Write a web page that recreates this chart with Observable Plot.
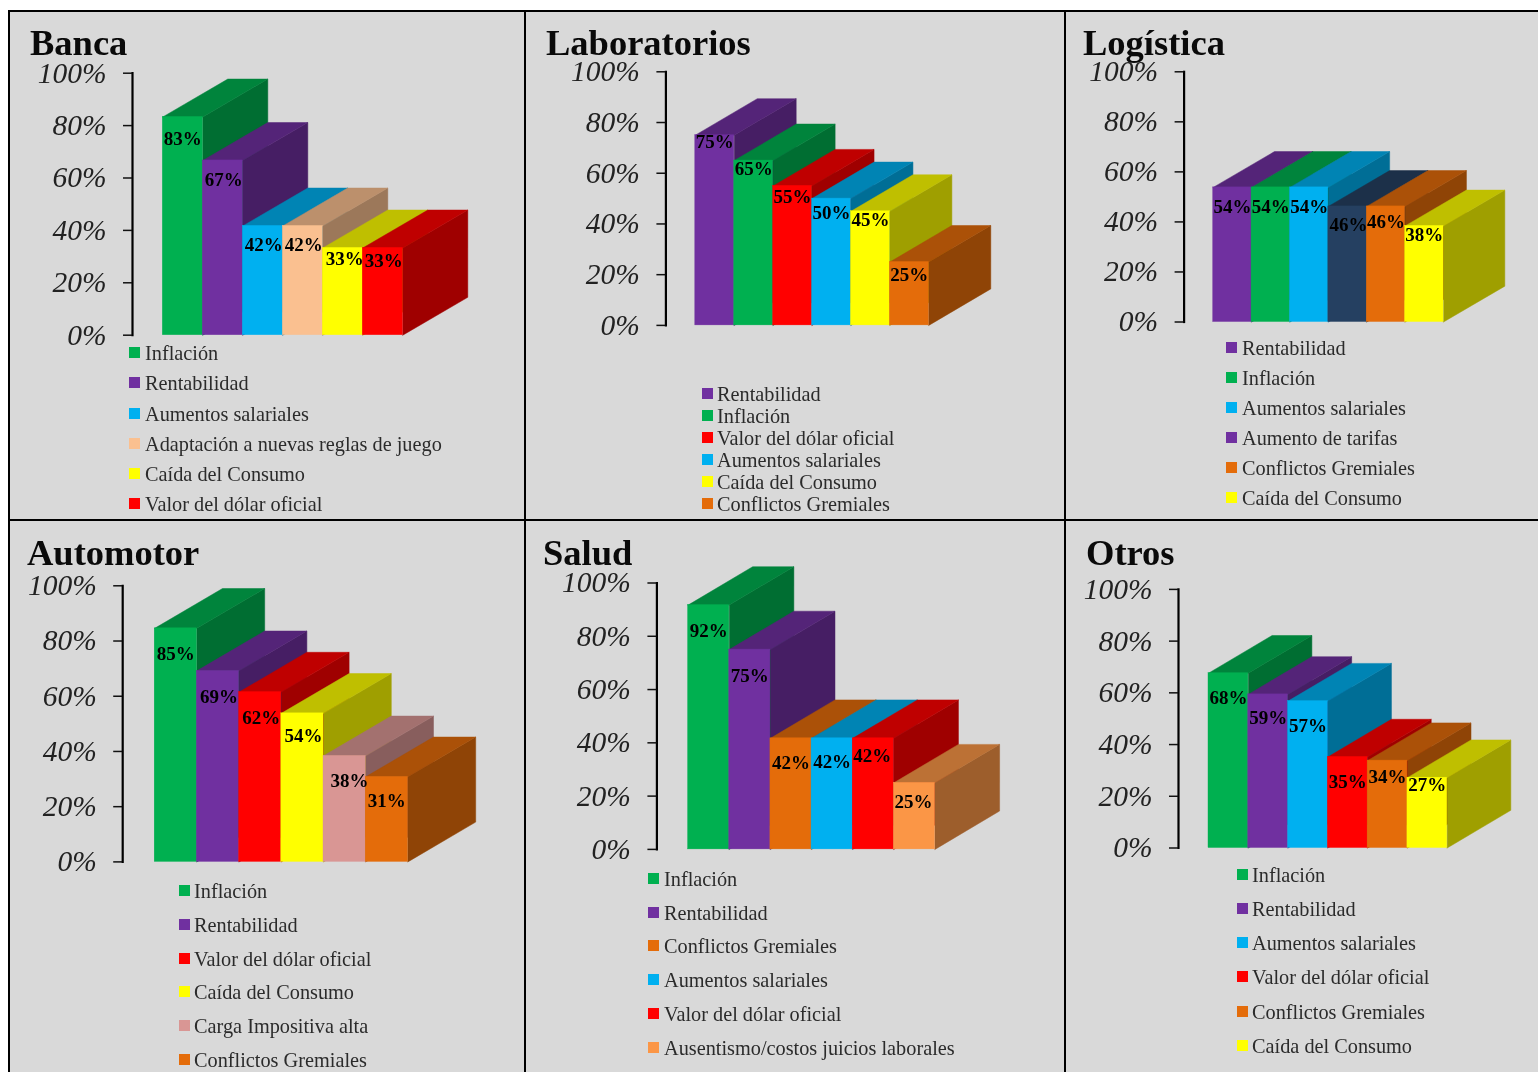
<!DOCTYPE html>
<html lang="es">
<head>
<meta charset="utf-8">
<title>Preocupaciones por sector</title>
<script src="https://cdn.jsdelivr.net/npm/d3@7"></script>
<script src="https://cdn.jsdelivr.net/npm/@observablehq/plot@0.6"></script>
<style>
  html, body { margin: 0; padding: 0; background: #fff; }
  #page { position: relative; width: 1538px; height: 1072px; overflow: hidden; font-family: "Liberation Serif", serif; filter: blur(0.3px); }
  .bg { position: absolute; left: 9px; top: 11px; right: 0; bottom: 0; background: #d9d9d9; }
  .ln { position: absolute; background: #000; }
  .chart { position: absolute; }
  .chart svg { display: block; overflow: visible; }
  .ttl { position: absolute; font: bold 36.5px "Liberation Serif", serif; color: #0a0a0a; line-height: 1; white-space: nowrap; }
  .sw { position: absolute; width: 11px; height: 11px; }
  .lg { position: absolute; font: 20.3px "Liberation Serif", serif; color: #2b2b2b; white-space: nowrap; line-height: 1; transform: translateY(-50%); }
</style>
</head>
<body>
<div id="page"><div class="bg"></div></div>
<script>
// ---- Colours
const GREEN = "#00b050", PURPLE = "#7030a0", BLUE = "#00b0f0", PEACH = "#fac090",
      YELLOW = "#ffff00", RED = "#ff0000", ORANGE = "#e46c0a", NAVY = "#254061",
      ROSE = "#d99694", LIGHTORANGE = "#fb9646";

// ---- Data
const tickValues = [0, 20, 40, 60, 80, 100];

const bancaCategories = ["Inflación", "Rentabilidad", "Aumentos salariales", "Adaptación a nuevas reglas de juego", "Caída del Consumo", "Valor del dólar oficial"];
const bancaValues = [83.3, 66.7, 41.7, 41.7, 33.3, 33.3];
const bancaColors = [GREEN, PURPLE, BLUE, PEACH, YELLOW, RED];

const laboratoriosCategories = ["Rentabilidad", "Inflación", "Valor del dólar oficial", "Aumentos salariales", "Caída del Consumo", "Conflictos Gremiales"];
const laboratoriosValues = [75, 65, 55, 50, 45, 25];
const laboratoriosColors = [PURPLE, GREEN, RED, BLUE, YELLOW, ORANGE];

const logisticaCategories = ["Rentabilidad", "Inflación", "Aumentos salariales", "Aumento de tarifas", "Conflictos Gremiales", "Caída del Consumo"];
const logisticaValues = [53.8, 53.8, 53.8, 46.2, 46.2, 38.4];
const logisticaColors = [PURPLE, GREEN, BLUE, NAVY, ORANGE, YELLOW];
const logisticaSwatches = [PURPLE, GREEN, BLUE, PURPLE, ORANGE, YELLOW];

const automotorCategories = ["Inflación", "Rentabilidad", "Valor del dólar oficial", "Caída del Consumo", "Carga Impositiva alta", "Conflictos Gremiales"];
const automotorValues = [84.6, 69.2, 61.5, 53.8, 38.4, 30.8];
const automotorColors = [GREEN, PURPLE, RED, YELLOW, ROSE, ORANGE];

const saludCategories = ["Inflación", "Rentabilidad", "Conflictos Gremiales", "Aumentos salariales", "Valor del dólar oficial", "Ausentismo/costos juicios laborales"];
const saludValues = [91.7, 75, 41.7, 41.7, 41.7, 25];
const saludColors = [GREEN, PURPLE, ORANGE, BLUE, RED, LIGHTORANGE];

const otrosCategories = ["Inflación", "Rentabilidad", "Aumentos salariales", "Valor del dólar oficial", "Conflictos Gremiales", "Caída del Consumo"];
const otrosValues = [67.6, 59.4, 56.8, 35.2, 33.8, 27.2];
const otrosColors = [GREEN, PURPLE, BLUE, RED, ORANGE, YELLOW];

// ---- Assembly: data + layout (layout is in page pixels)
const panels = [
  { title: "Banca", cats: bancaCategories, vals: bancaValues, cols: bancaColors,
    left: 10, top: 12, right: 524, axisX: 132, y0: 334.7, y100: 72.7, L: 162.3, R: 402.3, dx: 65, dy: 37.9,
    titleX: 30, titleB: 56.5, swX: 129, txX: 145, legY: [353, 383, 414, 444, 474, 504],
    labDy: [22, 19, 19, 19, 11, 13], labDx: [0, 1, 1, 1, 2, 1] },
  { title: "Laboratorios", cats: laboratoriosCategories, vals: laboratoriosValues, cols: laboratoriosColors,
    left: 526, top: 12, right: 1064, axisX: 665.4, y0: 324.9, y100: 71.3, L: 694.8, R: 928.3, dx: 62, dy: 36.5,
    titleX: 546, titleB: 56.5, swX: 702, txX: 717, legY: [394, 416, 438, 460, 482, 504],
    labDy: [7, 8, 11, 14, 9, 13], labDx: [0, 0, 0, 0, 0, 0] },
  { title: "Logística", cats: logisticaCategories, vals: logisticaValues, cols: logisticaColors, swatches: logisticaSwatches,
    left: 1066, top: 12, right: 1538, axisX: 1183.6, y0: 321.5, y100: 71.3, L: 1212.7, R: 1443, dx: 61.3, dy: 35.8,
    titleX: 1083, titleB: 56.5, swX: 1226, txX: 1242, legY: [348, 378, 408, 438, 468, 498],
    labDy: [20, 20, 20, 18, 15, 9], labDx: [0, 0, 0, 1, 0, 0] },
  { title: "Automotor", cats: automotorCategories, vals: automotorValues, cols: automotorColors,
    left: 10, top: 520, right: 524, axisX: 122.2, y0: 861.4, y100: 585.3, L: 154.2, R: 407.4, dx: 67.8, dy: 39.8,
    titleX: 27, titleB: 566.5, swX: 179, txX: 194, legY: [891, 925, 959, 992, 1026, 1060],
    labDy: [26, 26, 26, 23, 25, 24], labDx: [0, 1, 1, 1, 5, 0] },
  { title: "Salud", cats: saludCategories, vals: saludValues, cols: saludColors,
    left: 526, top: 520, right: 1064, axisX: 656.4, y0: 848.9, y100: 582.5, L: 687.6, R: 934.5, dx: 64.6, dy: 38.4,
    titleX: 543, titleB: 566.5, swX: 648, txX: 664, legY: [879, 913, 946, 980, 1014, 1048],
    labDy: [26, 26, 25, 24, 18, 19], labDx: [0, 0, 0, 0, -1, -1] },
  { title: "Otros", cats: otrosCategories, vals: otrosValues, cols: otrosColors,
    left: 1066, top: 520, right: 1538, axisX: 1178, y0: 847.5, y100: 588.9, L: 1208, R: 1446.7, dx: 63.6, dy: 37.7,
    titleX: 1086, titleB: 566.5, swX: 1237, txX: 1252, legY: [875, 909, 943, 977, 1012, 1046],
    labDy: [25, 24, 25, 25, 16, 7], labDx: [0, 0, 0, 0, 0, 0] }
];

const page = document.getElementById("page");
const shade = (c, k) => { const r = d3.rgb(c); return d3.rgb(r.r * k, r.g * k, r.b * k).formatHex(); };
const add = (cls, css, txt) => { const e = document.createElement("div"); e.className = cls; Object.assign(e.style, css); if (txt) e.textContent = txt; page.appendChild(e); return e; };

// frame lines
add("ln", { left: "8px", top: "10px", width: "2px", height: "1062px" });
add("ln", { left: "524px", top: "10px", width: "2px", height: "1062px" });
add("ln", { left: "1064px", top: "10px", width: "2px", height: "1062px" });
add("ln", { left: "8px", top: "10px", width: "1530px", height: "2px" });
add("ln", { left: "8px", top: "519px", width: "1530px", height: "2px" });

for (const p of panels) {
  const n = p.vals.length;
  const w = (p.R - p.L) / n;                 // px per bar
  const ppp = (p.y0 - p.y100) / 100;          // px per percent
  const du = p.dx / w, dv = p.dy / ppp;       // depth of the 3D extrusion in scale units
  const bars = p.vals.map((v, i) => ({ i, v, color: p.cols[i], label: Math.round(v) + "%",
    lx: i + 0.5 + p.labDx[i] / w, ly: v - p.labDy[i] / ppp }));
  const faces = [];
  for (const b of bars) {
    const { i, v, color } = b;
    const side = shade(color, 0.625), top = shade(color, 0.75);
    [[i + 1, v], [i + 1 + du, v + dv], [i + 1 + du, dv], [i + 1, 0]].forEach(([x, y]) => faces.push({ x, y, id: i + "s", color: side }));
    [[i, v], [i + du, v + dv], [i + 1 + du, v + dv], [i + 1, v]].forEach(([x, y]) => faces.push({ x, y, id: i + "t", color: top }));
  }

  const chart = Plot.plot({
    width: p.right - p.left,
    height: p.y0 - p.top + 12,
    marginLeft: p.axisX - p.left,
    marginRight: 0,
    marginTop: p.y100 - p.top,
    marginBottom: 12,
    style: { background: "transparent", fontFamily: "'Liberation Serif', serif", overflow: "visible", maxWidth: "none" },
    x: { domain: [0, n], range: [p.L - p.left, p.R - p.left], axis: null },
    y: { domain: [0, 100], range: [p.y0 - p.top, p.y100 - p.top], axis: null },
    color: { type: "identity" },
    marks: [
      Plot.frame({ anchor: "left", stroke: "#000", strokeWidth: 2.2 }),
      Plot.axisY(tickValues, { anchor: "left", tickSize: 9, tickPadding: 17, strokeWidth: 1.5, stroke: "#111", fill: "#222",
        tickFormat: d => d + "%", fontSize: 29.5, fontStyle: "italic", label: null }),
      Plot.line(faces, { x: "x", y: "y", z: "id", fill: "color", stroke: "color", strokeWidth: 0.5, curve: "linear-closed" }),
      Plot.rect(bars, { x1: "i", x2: d => d.i + 1, y1: 0, y2: "v", fill: "color", stroke: "color", strokeWidth: 0.4 }),
      Plot.text(bars, { x: "lx", y: "ly", text: "label", fill: "#000", fontSize: 19, fontWeight: "bold", textAnchor: "middle", lineAnchor: "middle" })
    ]
  });
  const holder = add("chart", { left: p.left + "px", top: p.top + "px", width: (p.right - p.left) + "px" });
  holder.appendChild(chart);

  // title
  add("ttl", { left: p.titleX + "px", top: (p.titleB - 32) + "px" }, p.title);

  // legend
  p.cats.forEach((c, i) => {
    add("sw", { left: p.swX + "px", top: (p.legY[i] - 6.5) + "px", background: (p.swatches || p.cols)[i] });
    add("lg", { left: p.txX + "px", top: p.legY[i] + "px" }, c);
  });
}
</script>
</body>
</html>
